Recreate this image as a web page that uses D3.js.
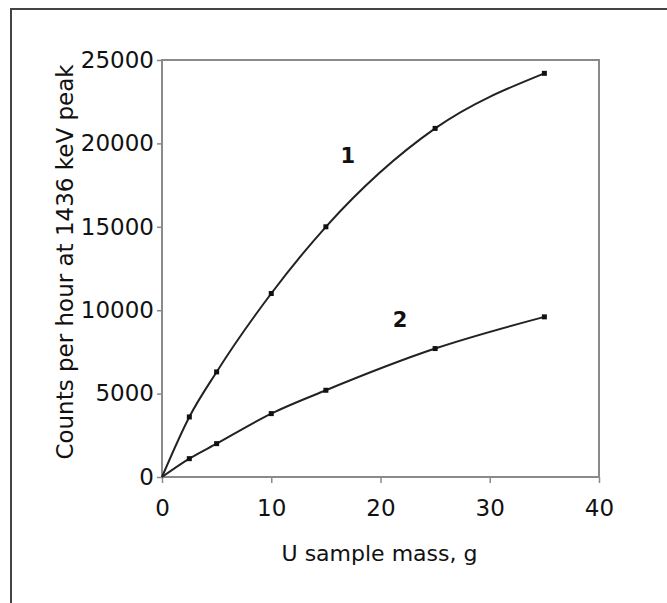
<!DOCTYPE html>
<html>
<head>
<meta charset="utf-8">
<script src="https://cdn.jsdelivr.net/npm/d3@7"></script>
<style>
  body { margin: 0; background: #fff; }
  text { font-family: "DejaVu Sans", sans-serif; fill: #111; }
</style>
</head>
<body>
<script>
// sample masses (g)
let masses = [0, 2.5, 5, 10, 15, 25, 35];
// counts per hour, curve 1 and curve 2
let counts1 = [0, 3600, 6300, 11000, 15000, 20900, 24200];
let counts2 = [0, 1100, 2000, 3800, 5200, 7700, 9600];
let xTicks = [0, 10, 20, 30, 40];
let yTicks = [0, 5000, 10000, 15000, 20000, 25000];

function main() {
    let width = 667, height = 603;
    let left = 162, right = 599, top = 60, bottom = 477;

    let svg = d3.select("body").append("svg")
        .attr("width", width)
        .attr("height", height);

    // outer frame (only left and top edges visible)
    svg.append("rect")
        .attr("x", 11).attr("y", 9)
        .attr("width", 700).attr("height", 700)
        .attr("fill", "none")
        .attr("stroke", "#444")
        .attr("stroke-width", 2);

    let xScale = d3.scaleLinear().domain([0, 40]).range([left, right]);
    let yScale = d3.scaleLinear().domain([0, 25000]).range([bottom, top]);

    // plot box
    svg.append("rect")
        .attr("x", left).attr("y", top)
        .attr("width", right - left).attr("height", bottom - top)
        .attr("fill", "none")
        .attr("stroke", "#8a8a8a")
        .attr("stroke-width", 2);

    let xAxis = svg.append("g")
        .attr("transform", "translate(0," + bottom + ")")
        .call(d3.axisBottom(xScale).tickValues(xTicks).tickFormat(d3.format("d"))
            .tickSize(6).tickPadding(17));
    let yAxis = svg.append("g")
        .attr("transform", "translate(" + left + ",0)")
        .call(d3.axisLeft(yScale).tickValues(yTicks).tickFormat(d3.format("d"))
            .tickSize(5).tickPadding(3));

    [xAxis, yAxis].forEach(function(g) {
        g.select(".domain").remove();
        g.selectAll("line").attr("stroke", "#8a8a8a").attr("stroke-width", 1.5);
        g.selectAll("text")
            .attr("font-family", "DejaVu Sans, sans-serif")
            .attr("font-size", 23)
            .attr("fill", "#111");
    });

    svg.append("text")
        .attr("x", (left + right) / 2 - 1)
        .attr("y", 561)
        .attr("text-anchor", "middle")
        .attr("font-size", 22)
        .text("U sample mass, g");

    svg.append("text")
        .attr("transform", "translate(73," + 262 + ") rotate(-90)")
        .attr("text-anchor", "middle")
        .attr("font-size", 23)
        .text("Counts per hour at 1436 keV peak");

    let line = d3.line()
        .x(function(d) { return xScale(d[0]); })
        .y(function(d) { return yScale(d[1]); })
        .curve(d3.curveMonotoneX);

    [counts1, counts2].forEach(function(series) {
        let pts = masses.map(function(m, i) { return [m, series[i]]; });
        svg.append("path")
            .datum(pts)
            .attr("d", line)
            .attr("fill", "none")
            .attr("stroke", "#222")
            .attr("stroke-width", 2);
        svg.append("g").selectAll("rect")
            .data(pts.slice(1))
            .enter()
            .append("rect")
            .attr("x", function(d) { return xScale(d[0]) - 2.5; })
            .attr("y", function(d) { return yScale(d[1]) - 2.5; })
            .attr("width", 5)
            .attr("height", 5)
            .attr("fill", "#111");
    });

    // curve labels
    svg.append("text")
        .attr("x", xScale(17)).attr("y", yScale(18800))
        .attr("text-anchor", "middle")
        .attr("font-size", 21)
        .attr("font-weight", "bold")
        .text("1");
    svg.append("text")
        .attr("x", xScale(21.8)).attr("y", yScale(9000))
        .attr("text-anchor", "middle")
        .attr("font-size", 21)
        .attr("font-weight", "bold")
        .text("2");
}

main();
</script>
</body>
</html>
